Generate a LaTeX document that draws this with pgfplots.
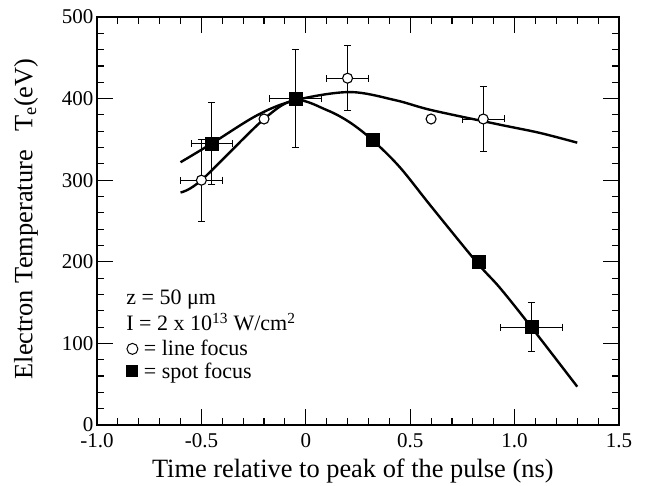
\documentclass[border=0pt]{standalone}
\usepackage{fontspec}
\setmainfont{Liberation Serif}
\usepackage{pgfplots}
\pgfplotsset{compat=1.18}
\begin{document}
\begin{tikzpicture}
\begin{axis}[
  scale only axis,
  width=522pt, height=408pt,
  xmin=-1.0, xmax=1.5, ymin=0, ymax=500,
  xtick={-1,-0.5,0,0.5,1,1.5},
  xticklabels={-1.0,-0.5,0,0.5,1.0,1.5},
  ytick={0,100,200,300,400,500},
  yticklabels={0,100,200,300,400,500},
  minor x tick num=4, minor y tick num=4,
  major tick length=16pt, minor tick length=7pt,
  tick style={line width=1pt, black},
  axis line style={line width=1.3pt},
  tick label style={font=\fontsize{21}{23}\selectfont},
  xticklabel style={yshift=-5pt},
  label style={font=\fontsize{26.4}{28}\selectfont},
  xlabel={Time relative to peak of the pulse (ns)},
  xlabel style={at={(axis description cs:0.49,-0.1275)}, anchor=base},
  ylabel={Electron Temperature\hspace{0.7em}T\textsubscript{e}(eV)},
  ylabel style={at={(axis description cs:-0.136,0.505)}, anchor=center},
]
% fitted curves
\addplot[black, line width=2.4pt, smooth, tension=0.55] coordinates {
 (-0.6,322) (-0.45,345) (-0.23,380) (-0.05,398) (0.21,408) (0.43,398) (0.6,386) (0.93,368) (1.12,358) (1.3,346)};
\addplot[black, line width=2.4pt, smooth, tension=0.55] coordinates {
 (-0.6,285) (-0.5,300) (-0.2,375) (-0.05,398) (0.1,386) (0.21,371) (0.32,349) (0.45,316) (0.6,268) (0.82,199) (0.93,168) (1.08,120) (1.3,47)};
% line focus
\addplot[only marks, mark=*, mark size=5pt, mark options={fill=white, draw=black, line width=1.1pt},
  error bars/.cd, x dir=both, y dir=both, x explicit, y explicit,
  error bar style={line width=0.9pt, black}, error mark options={rotate=90, line width=0.9pt, mark size=3.5pt, black}]
  coordinates {
  (-0.5,300) +- (0.1,50)
  (-0.2,375) +- (0,0)
  (0.2,425) +- (0.1,40)
  (0.6,375) +- (0,0)
  (0.85,375) +- (0.1,40)
};
% spot focus
\addplot[only marks, mark=square*, mark size=6.5pt, mark options={fill=black, draw=black},
  error bars/.cd, x dir=both, y dir=both, x explicit, y explicit,
  error bar style={line width=0.9pt, black}, error mark options={rotate=90, line width=0.9pt, mark size=3.5pt, black}]
  coordinates {
  (-0.45,345) +- (0.1,50)
  (-0.05,400) +- (0.125,60)
  (0.32,350) +- (0,0)
  (0.83,200) +- (0,0)
  (1.08,120) +- (0.15,30)
};
\node[anchor=west, font=\fontsize{22}{24}\selectfont, inner sep=0pt] at (axis cs:-0.86,154) {z = 50 μm};
\node[anchor=west, font=\fontsize{22}{24}\selectfont, inner sep=0pt] at (axis cs:-0.86,126) {I = 2 x 10\textsuperscript{13} W/cm\textsuperscript{2}};
\node[anchor=west, font=\fontsize{22}{24}\selectfont, inner sep=0pt] at (axis cs:-0.86,94) {\tikz[baseline=-0.7ex]\draw[line width=1pt] (0,0) circle (5.5pt); = line focus};
\node[anchor=west, font=\fontsize{22}{24}\selectfont, inner sep=0pt] at (axis cs:-0.86,64) {\tikz[baseline=-0.7ex]\fill (-6pt,-6pt) rectangle (6pt,6pt); = spot focus};
\end{axis}
% inward tick marks on all four sides of the frame
\begin{scope}[shift={(current axis.south west)}]
\foreach \i in {1,...,24} {
  \pgfmathparse{int(mod(\i,5))}
  \ifnum\pgfmathresult=0 \def\L{16}\else\def\L{7}\fi
  \draw[line width=1.1pt, black] (\i*20.88pt,0pt) -- ++(0pt,\L pt);
  \draw[line width=1.1pt, black] (\i*20.88pt,408pt) -- ++(0pt,-\L pt);
  \draw[line width=1.1pt, black] (0pt,\i*16.32pt) -- ++(\L pt,0pt);
  \draw[line width=1.1pt, black] (522pt,\i*16.32pt) -- ++(-\L pt,0pt);
}
\end{scope}
\path (current axis.south west) ++(-97pt,-60pt) rectangle ++(649pt,485pt);
\end{tikzpicture}
\end{document}
